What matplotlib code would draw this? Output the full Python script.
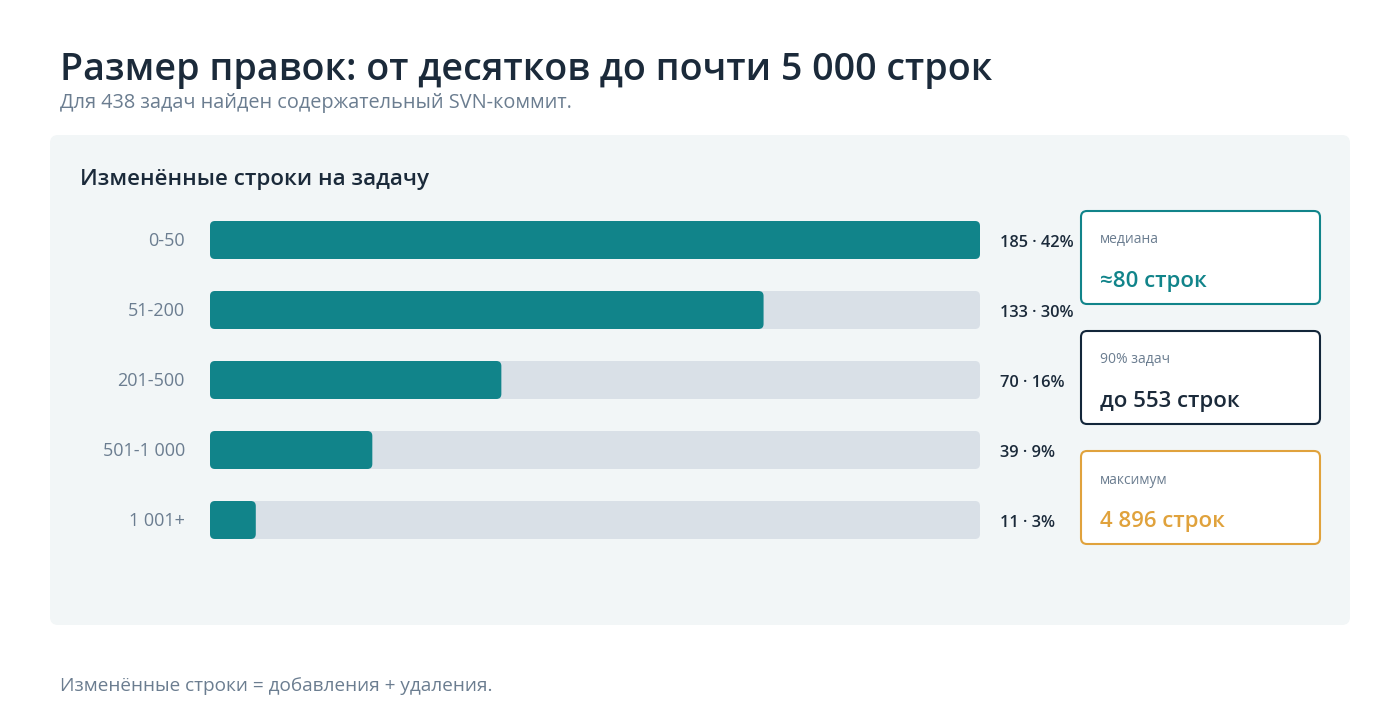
import matplotlib
matplotlib.use("Agg")
import matplotlib.pyplot as plt
from matplotlib.patches import FancyBboxPatch

plt.rcParams['font.family'] = ['Open Sans', 'DejaVu Sans']

# данные
bins = ["0-50", "51-200", "201-500", "501-1 000", "1 001+"]
counts = [185, 133, 70, 39, 11]
shares = [42, 30, 16, 9, 3]
card_labels = ["медиана", "90% задач", "максимум"]
card_values = ["≈80 строк", "до 553 строк", "4 896 строк"]
card_colors = ["#11848a", "#13263a", "#e0a23c"]

teal = "#11848a"
track = "#d9e0e7"
dark = "#1b2a3a"
grey = "#6b7d90"

W, H = 1400, 720
fig = plt.figure(figsize=(14, 7.2), dpi=100)
fig.patch.set_facecolor("white")

# фон на пикселях
bg = fig.add_axes([0, 0, 1, 1])
bg.set_xlim(0, W)
bg.set_ylim(H, 0)
bg.axis("off")

bg.add_patch(FancyBboxPatch((50, 135), 1300, 490, boxstyle="round,pad=0,rounding_size=8",
                            fc="#f2f6f7", ec="none"))

bg.text(60, 70, "Размер правок: от десятков до почти 5 000 строк", fontsize=27.1,
        fontweight="semibold", color=dark, va="center")
bg.text(60, 103, "Для 438 задач найден содержательный SVN-коммит.", fontsize=14.3,
        color=grey, va="center")
bg.text(80, 180, "Изменённые строки на задачу", fontsize=16.1, fontweight="semibold",
        color=dark, va="center")
bg.text(60, 686, "Изменённые строки = добавления + удаления.", fontsize=13.7,
        color=grey, va="center")

# карточки
for i in range(3):
    y0 = 211 + i * 120
    bg.add_patch(FancyBboxPatch((1081, y0), 239, 93, boxstyle="round,pad=0,rounding_size=6",
                                fc="white", ec=card_colors[i], lw=1.5))
    bg.text(1100, y0 + 29, card_labels[i], fontsize=10, color=grey, va="center")
    bg.text(1100, y0 + 71, card_values[i], fontsize=16, fontweight="semibold",
            color=card_colors[i] if i != 1 else dark, va="center")

# бары
ax = fig.add_axes([210 / W, 1 - 555 / H, 770 / W, 350 / H])
ax.set_xlim(0, max(counts))
ax.set_ylim(len(bins) - 0.5, -0.5)
ax.axis("off")
xpp = max(counts) / 770.0
ypp = 5 / 350.0
bh = 38 * ypp
for i, (c, s) in enumerate(zip(counts, shares)):
    ax.add_patch(FancyBboxPatch((0, i - bh / 2), max(counts), bh,
                                boxstyle="round,pad=0,rounding_size=%f" % (5 * xpp),
                                mutation_aspect=ypp / xpp, fc=track, ec="none"))
    ax.add_patch(FancyBboxPatch((0, i - bh / 2), c, bh,
                                boxstyle="round,pad=0,rounding_size=%f" % (5 * xpp),
                                mutation_aspect=ypp / xpp, fc=teal, ec="none"))
    ax.annotate(f"{c} · {s}%", (max(counts), i), xytext=(14.5, -2), textcoords="offset points",
                fontsize=11.8, fontweight="semibold", color=dark, va="center", ha="left")
    ax.annotate(bins[i], (0, i), xytext=(-18, -0.5), textcoords="offset points",
                fontsize=13, color=grey, va="center", ha="right")

fig.savefig("out.png", dpi=100, facecolor="white")
